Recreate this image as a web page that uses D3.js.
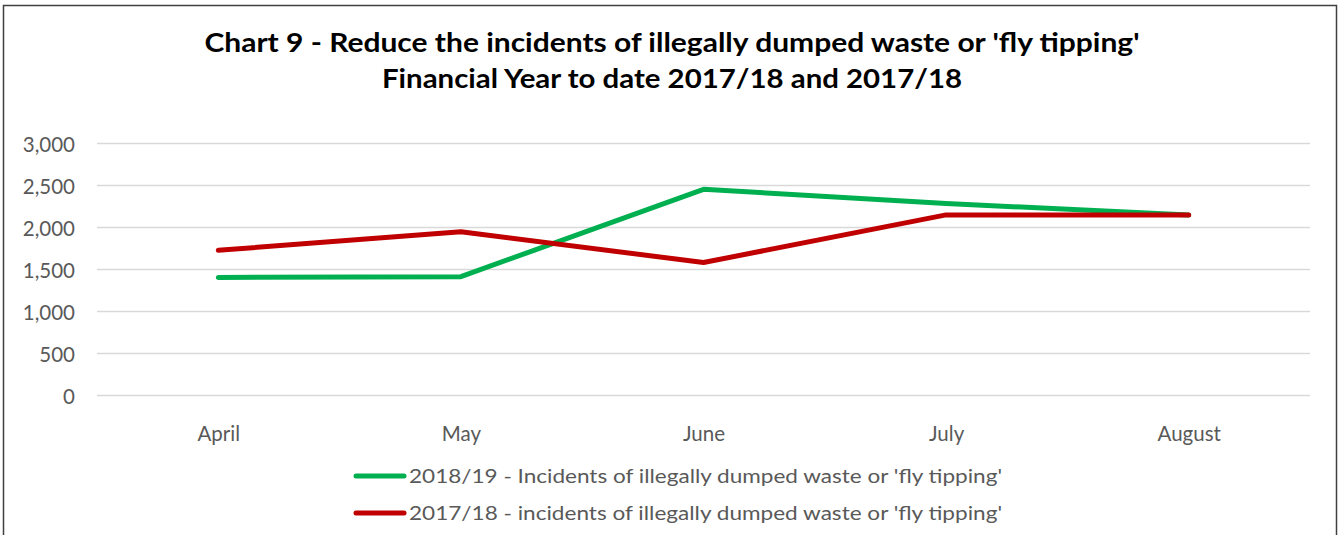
<!DOCTYPE html>
<html>
<head>
<meta charset="utf-8">
<script src="https://cdn.jsdelivr.net/npm/d3@7"></script>
<style>
	body { margin: 0; background: #fff; }
	text { font-family: Lato, "Open Sans", sans-serif; }
</style>
</head>
<body>
<svg id="chart" width="1341" height="535"></svg>
<script>
var months = ["April", "May", "June", "July", "August"];
var values2018 = [1405, 1415, 2455, 2285, 2150];
var values2017 = [1728, 1950, 1583, 2150, 2150];
var yTicks = [0, 500, 1000, 1500, 2000, 2500, 3000];
var seriesNames = [
	"2018/19 - Incidents of illegally dumped waste or 'fly tipping'",
	"2017/18 - incidents of illegally dumped waste or 'fly tipping'"
];
var seriesColors = ["#00b050", "#c00000"];
var titleLines = [
	"Chart 9 - Reduce the incidents of illegally dumped waste or 'fly tipping'",
	"Financial Year to date 2017/18 and 2017/18"
];

drawChart();

function drawChart() {
	var svg = d3.select("#chart");

	// outer frame
	svg.append("rect")
		.attr("x", 3.5).attr("y", 5.5)
		.attr("width", 1333).attr("height", 540)
		.attr("fill", "none")
		.attr("stroke", "#404040")
		.attr("stroke-width", 1.5);

	// title
	var titleWidths = [935, 580];
	titleLines.forEach(function(line, i) {
		svg.append("text")
			.attr("x", 672)
			.attr("y", 52 + i * 36)
			.attr("text-anchor", "middle")
			.attr("font-size", 27)
			.attr("font-weight", "bold")
			.attr("fill", "#000")
			.attr("textLength", titleWidths[i])
			.attr("lengthAdjust", "spacingAndGlyphs")
			.text(line);
	});

	var left = 97, right = 1310, top = 143.5, bottom = 395.5;

	var x = d3.scalePoint().domain(months).range([left, right]).padding(0.5);
	var y = d3.scaleLinear().domain([0, 3000]).range([bottom, top]);

	// gridlines
	svg.append("g")
		.selectAll("line")
		.data(yTicks)
		.join("line")
		.attr("x1", left).attr("x2", right)
		.attr("y1", function(d) { return y(d); })
		.attr("y2", function(d) { return y(d); })
		.attr("stroke", "#d9d9d9")
		.attr("stroke-width", 1.5);

	// y axis labels
	var yAxis = d3.axisLeft(y).tickValues(yTicks).tickFormat(d3.format(",")).tickSize(0).tickPadding(0);
	var yg = svg.append("g").attr("transform", "translate(75,1)").call(yAxis);
	yg.select(".domain").remove();
	yg.selectAll("text")
		.attr("font-size", 20.5)
		.attr("font-family", "Lato, 'Open Sans', sans-serif")
		.attr("fill", "#595959");

	// x axis labels
	var xAxis = d3.axisBottom(x).tickSize(0).tickPadding(0);
	var xg = svg.append("g").attr("transform", "translate(0,426)").call(xAxis);
	xg.select(".domain").remove();
	xg.selectAll("text")
		.attr("font-size", 20.5)
		.attr("font-family", "Lato, 'Open Sans', sans-serif")
		.attr("fill", "#595959");

	var line = d3.line()
		.x(function(d, i) { return x(months[i]); })
		.y(function(d) { return y(d); });

	// 2017/18 drawn last, on top
	[values2018, values2017].forEach(function(vals, i) {
		svg.append("path")
			.datum(vals)
			.attr("d", line)
			.attr("fill", "none")
			.attr("stroke", seriesColors[i])
			.attr("stroke-width", 5)
			.attr("stroke-linejoin", "round")
			.attr("stroke-linecap", "round");
	});

	// legend
	var legendTop = 476;
	seriesNames.forEach(function(name, i) {
		var ly = legendTop + i * 37;
		svg.append("line")
			.attr("x1", 356).attr("x2", 404)
			.attr("y1", ly).attr("y2", ly)
			.attr("stroke", seriesColors[i])
			.attr("stroke-width", 5)
			.attr("stroke-linecap", "round");
		svg.append("text")
			.attr("x", 409)
			.attr("y", ly + 7)
			.attr("font-size", 19.5)
			.attr("fill", "#595959")
			.attr("textLength", 593)
			.attr("lengthAdjust", "spacingAndGlyphs")
			.text(name);
	});
}
</script>
</body>
</html>
